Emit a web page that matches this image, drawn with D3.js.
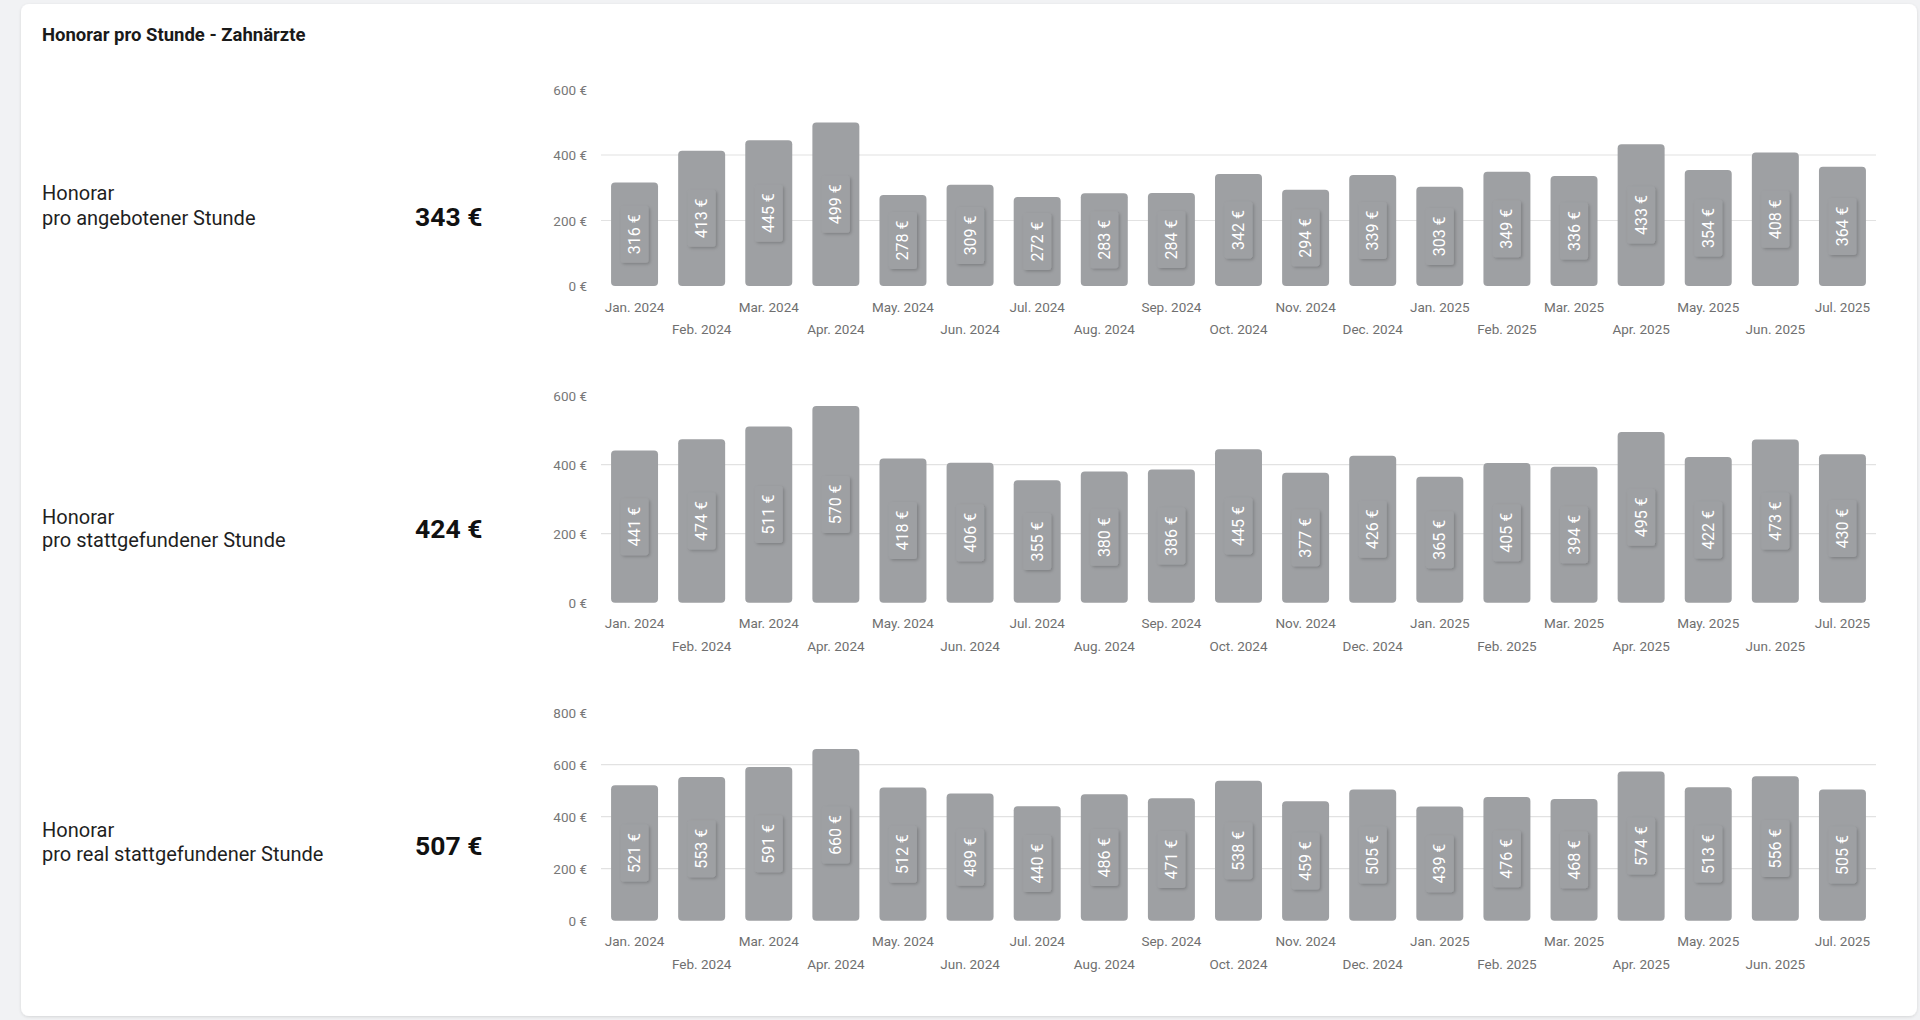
<!DOCTYPE html>
<html>
<head>
<meta charset="utf-8">
<script src="https://cdn.jsdelivr.net/npm/d3@7"></script>
<style>
  html, body { margin: 0; padding: 0; background: #f1f2f4; }
  body { width: 1920px; height: 1020px; overflow: hidden; font-family: Roboto, "Noto Sans", sans-serif; }
  svg { display: block; }
</style>
</head>
<body>
<svg id="chart" width="1920" height="1020"></svg>
<script>
// Months shown on every x axis
var months = ["Jan. 2024", "Feb. 2024", "Mar. 2024", "Apr. 2024", "May. 2024", "Jun. 2024",
  "Jul. 2024", "Aug. 2024", "Sep. 2024", "Oct. 2024", "Nov. 2024", "Dec. 2024",
  "Jan. 2025", "Feb. 2025", "Mar. 2025", "Apr. 2025", "May. 2025", "Jun. 2025", "Jul. 2025"];

// Honorar pro angebotener Stunde
var angeboten = [316, 413, 445, 499, 278, 309, 272, 283, 284, 342, 294, 339, 303, 349, 336, 433, 354, 408, 364];
// Honorar pro stattgefundener Stunde
var stattgefunden = [441, 474, 511, 570, 418, 406, 355, 380, 386, 445, 377, 426, 365, 405, 394, 495, 422, 473, 430];
// Honorar pro real stattgefundener Stunde
var realStatt = [521, 553, 591, 660, 512, 489, 440, 486, 471, 538, 459, 505, 439, 476, 468, 574, 513, 556, 505];

var rowLabels = ["pro angebotener Stunde", "pro stattgefundener Stunde", "pro real stattgefundener Stunde"];
var summaryValues = [343, 424, 507];
var yMax = [600, 600, 800];
var series = [angeboten, stattgefunden, realStatt];

var title = "Honorar pro Stunde - Zahnärzte";

// layout of the three rows (pixel positions only)
var rows = [
  {top: 89.5, base: 286, line1: 193, line2: 217.5, value: 216},
  {top: 395.7, base: 602.7, line1: 516.7, line2: 540, value: 528.5},
  {top: 712.7, base: 920.7, line1: 830, line2: 854, value: 845}
];

var barColor = "#9ea0a3",
    plotLeft = 601,
    plotRight = 1876;

var svg = d3.select("#chart");

var defs = svg.append("defs");
var cardShadow = defs.append("filter").attr("id", "cardShadow")
  .attr("x", "-5%").attr("y", "-5%").attr("width", "110%").attr("height", "110%");
cardShadow.append("feDropShadow")
  .attr("dx", 0).attr("dy", 1).attr("stdDeviation", 1.5)
  .attr("flood-color", "#000").attr("flood-opacity", 0.12);

var boxShadow = defs.append("filter").attr("id", "boxShadow")
  .attr("x", "-50%").attr("y", "-50%").attr("width", "200%").attr("height", "200%");
boxShadow.append("feDropShadow")
  .attr("dx", 1.5).attr("dy", 1.5).attr("stdDeviation", 1.6)
  .attr("flood-color", "#000").attr("flood-opacity", 0.2);

// Card.
svg.append("rect")
  .attr("x", 21).attr("y", 4)
  .attr("width", 1896).attr("height", 1012)
  .attr("rx", 8)
  .attr("fill", "#fff")
  .attr("filter", "url(#cardShadow)");

svg.append("text")
  .attr("x", 42).attr("y", 34.5)
  .attr("dominant-baseline", "central")
  .style("font-size", "18.5px")
  .style("font-weight", 700)
  .style("fill", "#1a1a1a")
  .text(title);

var x = d3.scaleBand()
  .domain(months)
  .range([plotLeft, plotRight])
  .paddingInner(0.3)
  .paddingOuter(0.15);

rows.forEach(function(r, k){
  var data = series[k];
  var g = svg.append("g").attr("class", "row");

  var y = d3.scaleLinear()
    .domain([0, yMax[k]])
    .range([r.base, r.top]);
  var ticks = d3.range(0, yMax[k] + 1, 200);

  // Left labels.
  var lab = g.append("text")
    .style("font-size", "20px")
    .style("fill", "#1f1f1f");
  lab.append("tspan").attr("x", 42).attr("y", r.line1).attr("dominant-baseline", "central").text("Honorar");
  lab.append("tspan").attr("x", 42).attr("y", r.line2).attr("dominant-baseline", "central").text(rowLabels[k]);

  g.append("text")
    .attr("x", 415).attr("y", r.value)
    .attr("dominant-baseline", "central")
    .style("font-size", "26.5px")
    .style("font-weight", 700)
    .style("fill", "#111")
    .text(summaryValues[k] + " €");

  // Grid lines (interior ticks only).
  g.append("g")
    .selectAll("line")
    .data(ticks.filter(function(t){ return t > 0 && t < yMax[k]; }))
    .join("line")
    .attr("x1", plotLeft).attr("x2", plotRight)
    .attr("y1", function(d){ return y(d); })
    .attr("y2", function(d){ return y(d); })
    .attr("stroke", "#e2e2e2")
    .attr("stroke-width", 1.2);

  // Y axis.
  var yAxis = g.append("g")
    .attr("transform", "translate(" + plotLeft + ",0)")
    .call(d3.axisLeft(y).tickValues(ticks).tickSize(0).tickPadding(14)
      .tickFormat(function(d){ return d + " €"; }));
  yAxis.select(".domain").remove();
  yAxis.selectAll("text")
    .attr("dy", "0.35em")
    .style("font-family", "Roboto, sans-serif")
    .style("font-size", "13.5px")
    .style("fill", "#777");

  // X axis with alternating rows.
  var xAxis = g.append("g")
    .attr("transform", "translate(0," + r.base + ")")
    .call(d3.axisBottom(x).tickSize(0));
  xAxis.select(".domain").remove();
  xAxis.selectAll("text")
    .attr("y", function(d, i){ return i % 2 ? 43.5 : 21; })
    .attr("dy", "0.35em")
    .style("font-family", "Roboto, sans-serif")
    .style("font-size", "13.5px")
    .style("fill", "#6f6f6f");

  // Bars.
  g.append("g")
    .selectAll("rect")
    .data(data)
    .join("rect")
    .attr("x", function(d, i){ return x(months[i]); })
    .attr("y", function(d){ return y(d); })
    .attr("width", x.bandwidth())
    .attr("height", function(d){ return r.base - y(d); })
    .attr("rx", 4)
    .attr("fill", barColor);

  // Value labels.
  var vl = g.append("g")
    .selectAll("g")
    .data(data)
    .join("g")
    .attr("transform", function(d, i){
      return "translate(" + (x(months[i]) + x.bandwidth() / 2) + "," + ((y(d) + r.base) / 2) + ")";
    });
  vl.append("rect")
    .attr("x", -14).attr("y", -28.5)
    .attr("width", 28).attr("height", 57)
    .attr("rx", 3)
    .attr("fill", barColor)
    .attr("filter", "url(#boxShadow)");
  vl.append("text")
    .attr("transform", "rotate(-90)")
    .attr("text-anchor", "middle")
    .attr("dominant-baseline", "central")
    .style("font-size", "16px")
    .style("fill", "#fff")
    .text(function(d){ return d + " €"; });
});
</script>
</body>
</html>
